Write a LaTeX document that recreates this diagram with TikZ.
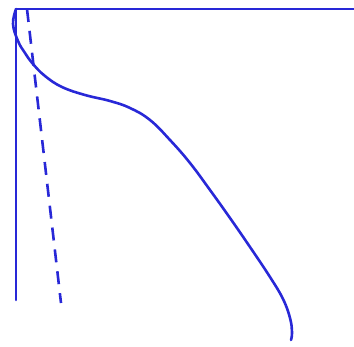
\documentclass[tikz,border=0pt]{standalone}
\begin{document}
\begin{tikzpicture}[x=1pt,y=-1pt,
  curve/.style={draw=plotblue,line width=2.6pt,line cap=round,line join=round},
  dashline/.style={draw=plotblue,line width=2.6pt,dash pattern=on 13pt off 9pt}]
\definecolor{plotblue}{RGB}{40,40,215}
\useasboundingbox (0,0) rectangle (354,346);
\coordinate (tl) at (16,9);
\coordinate (tr) at (354,9);
\coordinate (bl) at (16,300);
\coordinate (dtop) at (27,9);
\coordinate (dbot) at (61,303);
\draw[curve] (tr) -- (tl) -- (bl);
\draw[dashline] (dtop) -- (dbot);
\draw[curve] plot[smooth,tension=0.7] coordinates {
 (16,9) (13,24) (18,41) (25,53) (33,64) (45,76) (62,87) (85,95) (110,101)
 (130,108) (150,120) (170,140) (190,163) (210,190) (230,218) (250,247)
 (270,277) (283,299) (290,318) (292,332) (291,340)};
\end{tikzpicture}
\end{document}
